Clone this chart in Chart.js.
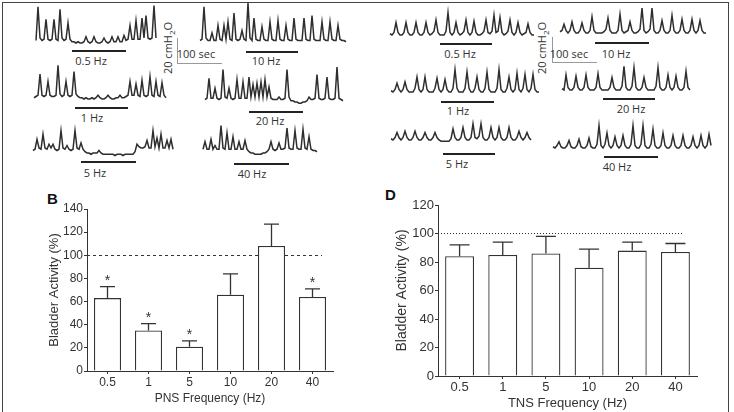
<!DOCTYPE html>
<html>
<head>
<meta charset="utf-8">
<script src="https://cdn.jsdelivr.net/npm/chart.js@4.4.1/dist/chart.umd.min.js"></script>
<style>
html, body { margin: 0; padding: 0; background: #fff; }
body { position: relative; width: 734px; height: 412px; overflow: hidden; font-family: "Open Sans", sans-serif; }
.frame { position: absolute; left: 2px; top: 2px; width: 725px; height: 430px; border: 1px solid #444; border-bottom: none; }
canvas { position: absolute; }
.stim { position: absolute; height: 2px; background: #222; }
.lbl { position: absolute; font-size: 11px; color: #333; transform: translate(-50%, -50%); white-space: nowrap; line-height: 1; }
.sv { position: absolute; width: 1px; background: #999; }
.sh { position: absolute; height: 1px; background: #999; }
.rot { position: absolute; font-size: 11px; line-height: 1; color: #333; white-space: nowrap; transform: translate(-50%, -50%) rotate(-90deg); }
.rot .sb { font-size: 8px; position: relative; top: 3px; }
.panel { position: absolute; font: bold 15px "Liberation Sans", Arial, sans-serif; color: #111; }
</style>
</head>
<body>
<div class="frame"></div>

<!-- stimulation bars and labels, PNS -->
<div class="stim" style="left:72px;top:50px;width:54px"></div><div class="lbl" style="left:91px;top:60px">0.5 Hz</div>
<div class="stim" style="left:246px;top:51px;width:52px"></div><div class="lbl" style="left:266px;top:60px">10 Hz</div>
<div class="stim" style="left:75px;top:107px;width:53px"></div><div class="lbl" style="left:92px;top:117px">1 Hz</div>
<div class="stim" style="left:249px;top:111px;width:54px"></div><div class="lbl" style="left:270px;top:120px">20 Hz</div>
<div class="stim" style="left:81px;top:161px;width:55px"></div><div class="lbl" style="left:95px;top:172px">5 Hz</div>
<div class="stim" style="left:234px;top:163px;width:55px"></div><div class="lbl" style="left:252px;top:173px">40 Hz</div>

<!-- stimulation bars and labels, TNS -->
<div class="stim" style="left:440px;top:43px;width:52px"></div><div class="lbl" style="left:460px;top:53px">0.5 Hz</div>
<div class="stim" style="left:595px;top:42px;width:54px"></div><div class="lbl" style="left:616px;top:53px">10 Hz</div>
<div class="stim" style="left:441px;top:101px;width:53px"></div><div class="lbl" style="left:458px;top:110px">1 Hz</div>
<div class="stim" style="left:603px;top:98px;width:52px"></div><div class="lbl" style="left:631px;top:108px">20 Hz</div>
<div class="stim" style="left:443px;top:153px;width:52px"></div><div class="lbl" style="left:457px;top:163px">5 Hz</div>
<div class="stim" style="left:604px;top:156px;width:54px"></div><div class="lbl" style="left:617px;top:166px">40 Hz</div>

<!-- scale bars -->
<div class="sv" style="left:177px;top:38px;height:25px"></div><div class="sh" style="left:177px;top:63px;width:45px"></div>
<div class="lbl" style="left:196px;top:53px">100 sec</div>
<div class="rot" style="left:167px;top:48px">20 cmH<span class="sb">2</span>O</div>
<div class="sv" style="left:552px;top:37px;height:25px"></div><div class="sh" style="left:552px;top:62px;width:45px"></div>
<div class="lbl" style="left:569px;top:53px">100 sec</div>
<div class="rot" style="left:541px;top:48px">20 cmH<span class="sb">2</span>O</div>

<div class="panel" style="left:47px;top:190px">B</div>
<div class="panel" style="left:385px;top:186px">D</div>

<canvas id="chartB" width="330" height="222" style="left:20px;top:190px"></canvas>
<canvas id="chartD" width="340" height="227" style="left:375px;top:185px"></canvas>

<script>
// bladder pressure traces, cmH2O above baseline, one sample every 2 px (~4.4 s)
const pns05 = [2,29,4,2,3,19,3,2,3,19,3,2,27,4,2,3,16,3,1,1,0,1,0,0,1,5,1,0,1,5,1,0,0,1,4,1,0,1,5,1,1,5,1,1,6,2,3,14,3,3,18,3,3,20,4,22,4,3,4,30,4];
const pns10 = [2,3,29,4,2,2,8,2,2,14,3,2,14,3,17,3,2,24,3,2,3,10,3,2,32,4,2,20,3,2,2,13,3,2,2,17,3,2,2,18,3,2,2,14,3,2,2,20,3,2,2,2,20,3,2,2,22,3,2,2,2,17,3,2,2,17,3,2,2,14,3,2,2,1];
const pns1 = [1,2,3,20,3,2,3,14,3,2,2,3,27,4,2,3,14,3,2,3,22,4,2,1,1,0,1,0,0,1,0,1,3,1,0,0,1,3,1,0,0,1,1,3,1,1,2,3,14,3,3,12,3,2,15,3,2,3,18,3,2,14,3,2,13,3,1];
const pns20 = [2,3,19,3,3,11,3,2,3,26,4,3,11,3,2,3,18,3,3,16,3,3,20,4,14,4,15,4,16,4,18,4,12,3,2,2,2,4,2,2,3,26,4,1,1,0,0,-1,-1,0,0,1,4,2,2,3,22,3,2,2,3,20,3,2,2,3,28,3,2,1];
const pns5 = [2,3,11,4,3,15,4,3,7,4,7,3,2,3,18,4,3,6,3,2,3,18,4,3,8,3,1,0,0,-1,0,0,0,2,0,-1,-1,-1,-1,-1,-1,-2,-1,-1,-1,-2,-1,-1,-1,-1,-1,1,7,5,4,4,5,10,4,4,18,5,12,4,15,4,4,10,4,11,3];
const pns40 = [3,9,3,3,11,3,6,3,3,22,4,3,16,3,3,13,3,3,9,3,3,10,3,1,0,0,-1,-1,-1,-1,0,0,1,3,9,3,2,3,8,3,3,4,20,4,3,3,18,4,3,3,19,4,3,13,3,2,2,1];
const tns05 = [1,0,2,10,2,0,0,2,10,2,0,0,2,10,2,0,0,2,10,2,0,1,3,12,2,0,0,0,3,18,2,0,2,10,2,0,1,3,12,2,0,2,11,2,0,0,1,3,12,2,1,3,16,2,3,14,2,0,1,3,12,2,0,2,10,2,0,1,2,9,2,0,0];
const tns10 = [1,2,7,2,0,2,9,2,0,0,2,8,2,0,0,2,13,2,0,0,0,0,1,3,12,2,0,0,0,2,15,2,0,1,2,9,2,0,0,1,3,20,2,0,1,3,20,2,0,0,2,10,2,0,0,2,14,2,0,0,2,11,2,0,0,2,11,2,0,2,10,2,0,0];
const tns1 = [1,0,2,7,2,0,2,8,2,0,0,0,3,12,2,0,2,12,2,0,0,0,3,11,2,0,2,10,2,0,0,3,18,3,0,0,0,3,16,3,0,0,3,12,2,0,0,3,16,2,0,0,0,3,18,2,0,0,3,12,2,0,2,15,2,0,3,14,2,0,3,14,2,0,0];
const tns20 = [1,0,12,2,0,0,2,11,2,0,0,2,12,2,0,0,0,2,13,2,0,0,0,0,2,10,2,0,0,0,3,19,2,0,0,3,18,2,0,0,2,10,2,0,0,0,0,3,18,2,0,0,2,12,2,0,2,11,2,0,0,2,15,2,0];
const tns5 = [1,0,2,6,2,0,2,7,2,0,0,2,7,2,0,0,2,6,2,0,0,2,6,2,0,-1,-1,-1,-1,-1,1,9,2,0,0,2,10,2,0,0,2,13,2,1,3,13,2,0,0,2,10,2,0,2,10,2,0,0,2,10,2,0,0,2,7,2,0,2,6,2,0];
const tns40 = [1,0,2,5,1,0,0,2,6,1,0,0,2,7,1,0,0,2,8,1,0,0,3,18,2,0,3,12,2,0,2,9,2,0,2,10,2,0,0,3,18,2,0,0,3,18,2,0,0,3,15,2,0,0,2,12,2,0,0,2,10,2,0,0,2,10,2,0,0,2,9,2,0,2,10,2,0,2,11,2];

// bar panels
const freqLabels = ['0.5', '1', '5', '10', '20', '40'];
const pnsMean = [63, 35, 21, 66, 108, 64];
const pnsSem = [10, 6, 5, 18, 19, 7];
const pnsSig = [true, true, true, false, false, true];
const tnsMean = [84, 85, 86, 76, 88, 87];
const tnsSem = [8, 9, 12, 13, 6, 6];
const pnsTicks = [0, 20, 40, 60, 80, 100, 120, 140];
const tnsTicks = [0, 20, 40, 60, 80, 100, 120];

const INK = '#333';
const PX_PER_CM = 1.25;
const STEP = 2;

// where each trace sits: left edge and baseline (px)
const traceLayout = [
    { data: pns05, x: 36, base: 43 },
    { data: pns10, x: 200, base: 43 },
    { data: pns1, x: 34, base: 99 },
    { data: pns20, x: 205, base: 102 },
    { data: pns5, x: 33, base: 153 },
    { data: pns40, x: 203, base: 153 },
    { data: tns05, x: 390, base: 35 },
    { data: tns10, x: 560, base: 33 },
    { data: tns1, x: 391, base: 92 },
    { data: tns20, x: 562, base: 90 },
    { data: tns5, x: 391, base: 140 },
    { data: tns40, x: 553, base: 148 }
];

function drawTrace(t) {
    const above = 42, below = 6, pad = 2;
    const c = document.createElement('canvas');
    c.width = (t.data.length - 1) * STEP + pad * 2;
    c.height = above + below;
    c.style.left = (t.x - pad) + 'px';
    c.style.top = (t.base - above) + 'px';
    document.body.appendChild(c);
    return new Chart(c, {
        type: 'line',
        data: {
            labels: t.data.map((_, i) => i),
            datasets: [{ data: t.data, borderColor: '#2e2e2e', borderWidth: 1.5, pointRadius: 0, tension: 0, clip: false }]
        },
        options: {
            responsive: false,
            animation: false,
            events: [],
            layout: { padding: { left: pad, right: pad, top: 0, bottom: 0 } },
            plugins: { legend: { display: false }, tooltip: { enabled: false } },
            scales: {
                x: { display: false },
                y: { display: false, min: -below / PX_PER_CM, max: above / PX_PER_CM }
            }
        }
    });
}

traceLayout.forEach(drawTrace);

// error bars, asterisks and the 100 % reference line
const barExtras = {
    id: 'barExtras',
    beforeDatasetsDraw(chart, args, opts) {
        const { ctx, chartArea, scales: { y } } = chart;
        const yy = Math.round(y.getPixelForValue(100)) + 0.5;
        ctx.save();
        ctx.strokeStyle = INK;
        ctx.lineWidth = 1;
        ctx.setLineDash(opts.dash);
        ctx.beginPath();
        ctx.moveTo(chartArea.left, yy);
        ctx.lineTo(chartArea.right - opts.refTrim, yy);
        ctx.stroke();
        ctx.restore();
    },
    afterDatasetsDraw(chart, args, opts) {
        const { ctx, scales: { y } } = chart;
        const vals = chart.data.datasets[0].data;
        ctx.save();
        ctx.strokeStyle = INK;
        ctx.fillStyle = INK;
        ctx.lineWidth = 1.3;
        ctx.font = '14px "Liberation Sans", Arial, sans-serif';
        ctx.textAlign = 'center';
        ctx.textBaseline = 'alphabetic';
        chart.getDatasetMeta(0).data.forEach((bar, i) => {
            const top = y.getPixelForValue(vals[i] + opts.sem[i]);
            ctx.beginPath();
            ctx.moveTo(bar.x, bar.y);
            ctx.lineTo(bar.x, top);
            ctx.moveTo(bar.x - opts.cap, top);
            ctx.lineTo(bar.x + opts.cap, top);
            ctx.stroke();
            if (opts.sig && opts.sig[i]) ctx.fillText('*', bar.x, top - 2);
        });
        ctx.restore();
    }
};

function barPanel(id, means, sem, sig, ticks, cfg) {
    const family = '"Liberation Sans", Arial, sans-serif';
    const tickFont = { family: family, size: cfg.tickSize };
    return new Chart(document.getElementById(id), {
        type: 'bar',
        data: {
            labels: freqLabels,
            datasets: [{
                data: means,
                backgroundColor: '#fff',
                borderColor: INK,
                borderWidth: 1.3,
                barPercentage: cfg.barPct,
                categoryPercentage: 1
            }]
        },
        options: {
            responsive: false,
            animation: false,
            events: [],
            layout: { padding: { left: 0, top: cfg.padTop, right: cfg.padRight, bottom: 0 } },
            plugins: {
                legend: { display: false },
                tooltip: { enabled: false },
                barExtras: { sem: sem, sig: sig, cap: cfg.cap, dash: cfg.dash, refTrim: cfg.refTrim }
            },
            scales: {
                x: {
                    grid: { offset: false, drawOnChartArea: false, tickLength: 3, color: INK },
                    border: { color: INK, width: 1 },
                    ticks: { color: INK, font: tickFont, padding: 1, maxRotation: 0 },
                    title: { display: true, text: cfg.xTitle, color: INK, font: { family: family, size: cfg.xTitleSize }, padding: { top: 0, bottom: cfg.xTitlePad } },
                    afterFit: s => { s.height = cfg.xHeight; }
                },
                y: {
                    min: 0,
                    max: ticks[ticks.length - 1],
                    afterBuildTicks: s => { s.ticks = ticks.map(v => ({ value: v })); },
                    grid: { drawOnChartArea: false, tickLength: 3, color: INK },
                    border: { color: INK, width: 1 },
                    ticks: { color: INK, font: tickFont, padding: 1 },
                    title: { display: true, text: 'Bladder Activity (%)', color: INK, font: { family: family, size: cfg.yTitleSize }, padding: { top: cfg.yTitlePad, bottom: 0 } },
                    afterFit: s => { s.width = cfg.yWidth; }
                }
            }
        },
        plugins: [barExtras]
    });
}

barPanel('chartB', pnsMean, pnsSem, pnsSig, pnsTicks, {
    tickSize: 12, xTitleSize: 12, yTitleSize: 13, barPct: 0.66, cap: 7.5, dash: [3, 3], refTrim: 11,
    padTop: 19, padRight: 17, xHeight: 41, yWidth: 67, xTitlePad: 5.8, yTitlePad: 26.2,
    xTitle: 'PNS Frequency (Hz)'
});

barPanel('chartD', tnsMean, tnsSem, null, tnsTicks, {
    tickSize: 13, xTitleSize: 13, yTitleSize: 14, barPct: 0.67, cap: 10, dash: [1, 2], refTrim: 15,
    padTop: 20, padRight: 18, xHeight: 36, yWidth: 63, xTitlePad: 0.6, yTitlePad: 18.6,
    xTitle: 'TNS Frequency (Hz)'
});
</script>
</body>
</html>
